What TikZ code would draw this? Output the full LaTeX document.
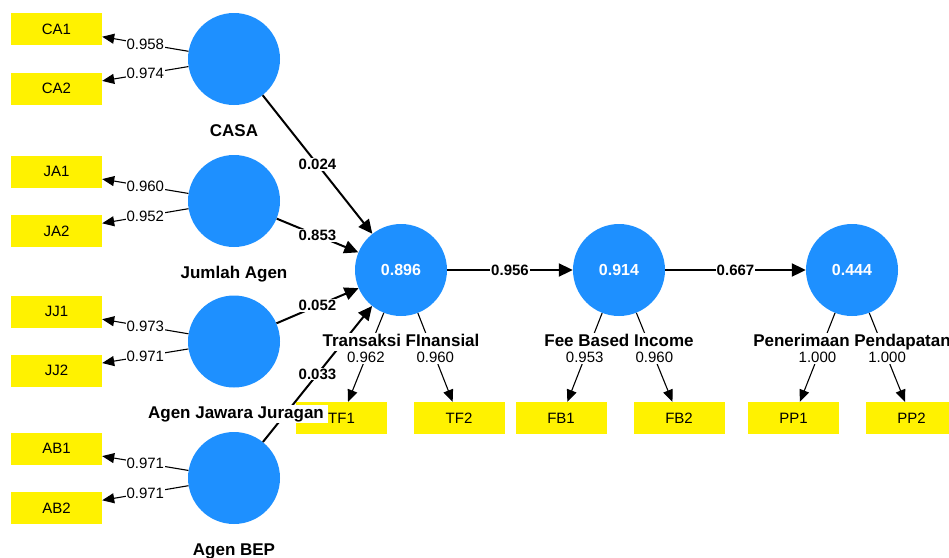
\documentclass[tikz,border=0pt]{standalone}
\usepackage{fontspec}
\setmainfont{Liberation Sans}
\usetikzlibrary{arrows.meta}
\definecolor{lvblue}{RGB}{30,144,255}
\begin{document}
\begin{tikzpicture}[x=1pt,y=-1pt,
 lv/.style={circle,fill=lvblue,minimum size=92pt,inner sep=0pt,text=white,font=\fontsize{16}{16}\selectfont\bfseries},
 ind/.style={rectangle,fill=yellow,minimum width=91pt,minimum height=32pt,inner sep=0pt,font=\fontsize{15}{15}\selectfont},
 lvname/.style={fill=white,inner sep=1pt,text height=12.5pt,text depth=3.5pt,font=\fontsize{17}{17}\selectfont\bfseries},
 ldarrow/.style={line width=1.1pt,-{Triangle[length=12pt,width=10pt]}},
 strarrow/.style={line width=2pt,-{Triangle[length=14pt,width=13pt]}},
 lload/.style={fill=white,inner sep=1pt,font=\fontsize{15}{15}\selectfont},
 lpath/.style={fill=white,inner sep=1pt,font=\fontsize{15}{15}\selectfont\bfseries}
]
\useasboundingbox (0,0) rectangle (949,557);
\clip (0,0) rectangle (949,557);
% indicators
\node[ind] (ca1) at (56.5,29) {CA1};
\node[ind] (ca2) at (56.5,88.5) {CA2};
\node[ind] (ja1) at (56.5,171.5) {JA1};
\node[ind] (ja2) at (56.5,231) {JA2};
\node[ind] (jj1) at (56.5,311.5) {JJ1};
\node[ind] (jj2) at (56.5,370.5) {JJ2};
\node[ind] (ab1) at (56.5,448.5) {AB1};
\node[ind] (ab2) at (56.5,508) {AB2};
\node[ind] (tf1) at (341.5,418) {TF1};
\node[ind] (tf2) at (459,418) {TF2};
\node[ind] (fb1) at (561,418) {FB1};
\node[ind] (fb2) at (679,418) {FB2};
\node[ind] (pp1) at (793.5,418) {PP1};
\node[ind] (pp2) at (911.5,418) {PP2};
% latent variables
\node[lv] (casa) at (234,59) {};
\node[lv] (ja) at (234,201) {};
\node[lv] (ajj) at (234,341.5) {};
\node[lv] (bep) at (234,478) {};
\node[lv] (tf) at (401,270) {0.896};
\node[lv] (fb) at (619,270) {0.914};
\node[lv] (pp) at (852,270) {0.444};
% edges
\draw[ldarrow] (casa) -- (ca1);
\draw[ldarrow] (casa) -- (ca2);
\draw[ldarrow] (ja) -- (ja1);
\draw[ldarrow] (ja) -- (ja2);
\draw[ldarrow] (ajj) -- (jj1);
\draw[ldarrow] (ajj) -- (jj2);
\draw[ldarrow] (bep) -- (ab1);
\draw[ldarrow] (bep) -- (ab2);
\draw[ldarrow] (tf) -- (tf1);
\draw[ldarrow] (tf) -- (tf2);
\draw[ldarrow] (fb) -- (fb1);
\draw[ldarrow] (fb) -- (fb2);
\draw[ldarrow] (pp) -- (pp1);
\draw[ldarrow] (pp) -- (pp2);
\draw[strarrow] (casa) -- (tf);
\draw[strarrow] (ja) -- (tf);
\draw[strarrow] (ajj) -- (tf);
\draw[strarrow] (bep) -- (tf);
\draw[strarrow] (tf) -- (fb);
\draw[strarrow] (fb) -- (pp);
% latent names
\node[lvname] (ncasa) at (234,131.5) {CASA};
\node[lvname] (nja) at (234,273.5) {Jumlah Agen};
\node[lvname, inner xsep=4pt] (najj) at (236,413.8) {Agen Jawara Juragan};
\node[lvname] (nbep) at (234,550.5) {Agen BEP};
\node[lvname] (ntf) at (401,342) {Transaksi FInansial};
\node[lvname] (nfb) at (619,342) {Fee Based Income};
\node[lvname] (npp) at (852,342) {Penerimaan Pendapatan};
% edge labels
\path (casa) -- node[lload]{0.958} (ca1);
\path (casa) -- node[lload]{0.974} (ca2);
\path (ja) -- node[lload]{0.960} (ja1);
\path (ja) -- node[lload]{0.952} (ja2);
\path (ajj) -- node[lload]{0.973} (jj1);
\path (ajj) -- node[lload]{0.971} (jj2);
\path (bep) -- node[lload]{0.971} (ab1);
\path (bep) -- node[lload]{0.971} (ab2);
\path (tf) -- node[lload]{0.962} (tf1);
\path (tf) -- node[lload]{0.960} (tf2);
\path (fb) -- node[lload]{0.953} (fb1);
\path (fb) -- node[lload]{0.960} (fb2);
\path (pp) -- node[lload]{1.000} (pp1);
\path (pp) -- node[lload]{1.000} (pp2);
\path (casa) -- node[lpath]{0.024} (tf);
\path (ja) -- node[lpath]{0.853} (tf);
\path (ajj) -- node[lpath]{0.052} (tf);
\path (bep) -- node[lpath]{0.033} (tf);
\path (tf) -- node[lpath]{0.956} (fb);
\path (fb) -- node[lpath]{0.667} (pp);
\end{tikzpicture}
\end{document}
